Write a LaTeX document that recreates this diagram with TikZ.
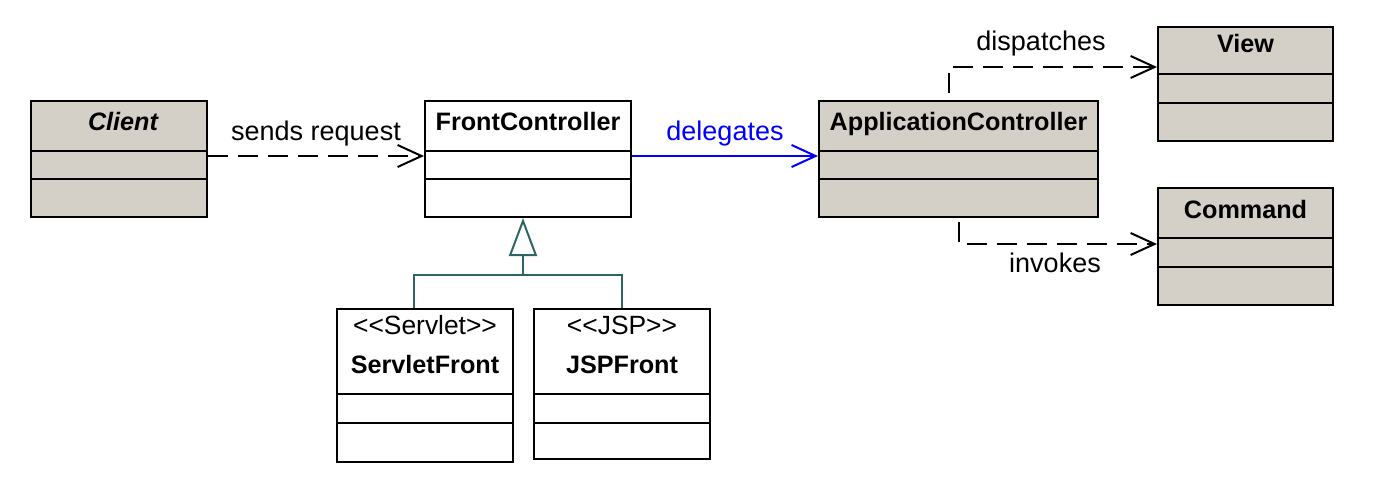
\documentclass[tikz,border=0pt]{standalone}
\usepackage{fontspec}
\setmainfont{Liberation Sans}
\usetikzlibrary{arrows.meta, calc}
\definecolor{umlgray}{HTML}{D4D0C8}
\definecolor{genteal}{HTML}{2F6464}
\definecolor{delblue}{HTML}{0000FF}
\tikzset{
  cls/.style={draw, line width=1pt, fill=umlgray, anchor=north west,
              inner sep=0pt},
  plaincls/.style={cls, fill=white},
  clsname/.style={font=\bfseries\fontsize{12.6}{14}\selectfont,
                  inner sep=0pt, anchor=base},
  stereo/.style={font=\fontsize{13.2}{15}\selectfont, inner sep=0pt,
                 anchor=base},
  lbl/.style={font=\fontsize{13.5}{15}\selectfont, inner sep=0pt,
              anchor=base},
  dep/.style={line width=1pt, dash pattern=on 10pt off 5pt,
              -{Straight Barb[length=12pt, width=11pt]}},
  deleg/.style={line width=1pt, draw=delblue,
                -{Straight Barb[length=12pt, width=11pt]}},
  gen/.style={line width=1pt, draw=genteal}
}

\begin{document}
\begin{tikzpicture}[x=0.5pt, y=-0.5pt]
  \useasboundingbox (0,0) rectangle (1386,493);

  % Classes
  \node[cls, minimum width=88pt, minimum height=58pt] (client) at (30,100) {};
  \node[plaincls, minimum width=103pt, minimum height=58pt] (front) at (424,100) {};
  \node[cls, minimum width=139.5pt, minimum height=58pt] (appctl) at (818,100) {};
  \node[cls, minimum width=87.5pt, minimum height=57pt] (view) at (1157,26) {};
  \node[cls, minimum width=87.5pt, minimum height=58.5pt] (command) at (1157,187) {};
  \node[plaincls, minimum width=88pt, minimum height=76.5pt] (sfront) at (336,308) {};
  \node[plaincls, minimum width=88pt, minimum height=75pt] (jfront) at (533,308) {};

  % Compartment lines
  \foreach \n/\a/\b in {client/25.5/39.5, front/25.5/39.5, appctl/25.5/39.5,
                        view/24/38.5, command/25.5/40,
                        sfront/43/57.5, jfront/43/57.5} {
    \draw[line width=1pt] ([yshift=-\a pt]\n.north west) -- ([yshift=-\a pt]\n.north east);
    \draw[line width=1pt] ([yshift=-\b pt]\n.north west) -- ([yshift=-\b pt]\n.north east);
  }

  % Class names
  \node[clsname] (clientname) at ([xshift=2pt, yshift=-15pt]client.north) {\itshape Client};
  \node[clsname] (frontname) at ([yshift=-15pt]front.north) {FrontController};
  \node[clsname] (appctlname) at ([yshift=-15pt]appctl.north) {ApplicationController};
  \node[clsname] (viewname) at ([yshift=-13pt]view.north) {View};
  \node[clsname] (commandname) at ([yshift=-15.5pt]command.north) {Command};
  \node[stereo] (sfrontst) at ([yshift=-13pt]sfront.north) {<{}<Servlet>{}>};
  \node[clsname] (sfrontname) at ([yshift=-32.5pt]sfront.north) {ServletFront};
  \node[stereo] (jfrontst) at ([yshift=-13pt]jfront.north) {<{}<JSP>{}>};
  \node[clsname] (jfrontname) at ([yshift=-32.5pt]jfront.north) {JSPFront};

  % Dependencies
  \draw[dep] ([yshift=-28pt]client.north east) -- ([yshift=-28pt]front.north west)
    node[lbl, midway, yshift=8pt] (sendslbl) {sends request};
  \draw[deleg] ([yshift=-28pt]front.north east) -- ([yshift=-28pt]appctl.north west)
    node[lbl, midway, yshift=8pt, text=delblue] (deleglbl) {delegates};
  \draw[dep] ([xshift=-4.75pt, yshift=3.5pt]appctl.north)
    |- ([yshift=-20.5pt]view.north west);
  \node[lbl] (displbl) at (1041,50) {dispatches};
  \draw[dep] ([yshift=-2pt]appctl.south) |- ([yshift=-28.5pt]command.north west);
  \node[lbl] (invlbl) at (1055,272) {invokes};

  % Generalization
  \coordinate (genjoin) at (523,275);
  \draw[gen] ([xshift=-5.5pt]sfront.north) |- (genjoin);
  \draw[gen] (jfront.north) |- (genjoin);
  \draw[gen, -{Triangle[open, length=19pt, width=14pt, line width=1pt]}]
    (genjoin) -- (genjoin |- front.south);
\end{tikzpicture}
\end{document}
